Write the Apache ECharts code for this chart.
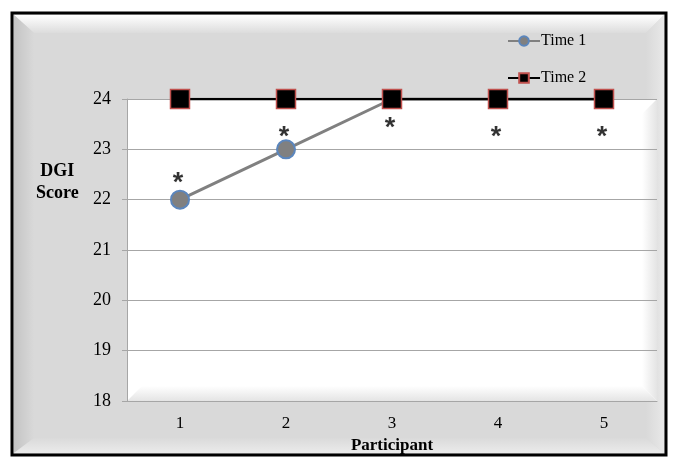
<!DOCTYPE html>
<html>
<head>
<meta charset="utf-8">
<script src="https://cdn.jsdelivr.net/npm/echarts@6/dist/echarts.min.js"></script>
<style>
html,body{margin:0;padding:0;background:#fff;}
#chart{width:679px;height:466px;}
</style>
</head>
<body>
<div id="chart"></div>
<script>
const categories = ['1', '2', '3', '4', '5'];
const time1 = [22, 23, 24, 24, 24];
const time2 = [24, 24, 24, 24, 24];
const asteriskValues = [22.41, 23.34, 23.52, 23.34, 23.34];
const yMin = 18, yMax = 24, yInterval = 1;

const serif = '"Liberation Serif", "Times New Roman", serif';
const chart = echarts.init(document.getElementById('chart'));

const G = { left: 127, top: 99, width: 530, height: 302 };
const gx2 = G.left + G.width, gy2 = G.top + G.height;

function lg(x, y, x2, y2, c1, c2) {
  return { type: 'linear', x: x, y: y, x2: x2, y2: y2, colorStops: [{ offset: 0, color: c1 }, { offset: 1, color: c2 }] };
}

const graphics = [
  { type: 'rect', z: -20, shape: { x: 12, y: 13, width: 654, height: 442 }, style: { fill: '#d9d9d9' } },
  { type: 'polygon', z: -19, shape: { points: [[14, 15], [664, 15], [646, 33], [34, 33]] }, style: { fill: lg(0, 0, 0, 1, '#ffffff', '#dcdcdc') } },
  { type: 'polygon', z: -19, shape: { points: [[14, 15], [34, 33], [34, 438], [14, 453]] }, style: { fill: lg(0, 0, 1, 0, '#c4c4c4', '#d9d9d9') } },
  { type: 'polygon', z: -19, shape: { points: [[664, 15], [664, 453], [646, 438], [646, 33]] }, style: { fill: lg(0, 0, 1, 0, '#d9d9d9', '#e8e8e8') } },
  { type: 'polygon', z: -19, shape: { points: [[14, 453], [664, 453], [646, 438], [34, 438]] }, style: { fill: lg(0, 0, 0, 1, '#dadada', '#ebebeb') } },
  { type: 'rect', z: -15, shape: { x: G.left, y: G.top, width: G.width, height: G.height }, style: { fill: '#ffffff' } },
  { type: 'polygon', z: -14, shape: { points: [[G.left, gy2], [gx2, gy2], [gx2 - 15, gy2 - 15], [G.left + 15, gy2 - 15]] }, style: { fill: lg(0, 0, 0, 1, '#ffffff', '#e4e4e4') } },
  { type: 'polygon', z: -14, shape: { points: [[gx2, G.top], [gx2, gy2], [gx2 - 15, gy2 - 15], [gx2 - 15, G.top + 15]] }, style: { fill: lg(0, 0, 1, 0, '#ffffff', '#e4e4e4') } },
  { type: 'rect', z: 100, shape: { x: 12, y: 13, width: 654, height: 442 }, style: { fill: 'none', stroke: '#000', lineWidth: 3 } },
  { type: 'text', z: 50, left: 36, top: 160, style: { text: 'DGI\nScore', font: 'bold 18px ' + serif, fill: '#000', textAlign: 'center', lineHeight: 22 } }
];

chart.setOption({
  animation: false,
  backgroundColor: '#ffffff',
  graphic: graphics,
  grid: { left: G.left, top: G.top, width: G.width, height: G.height, containLabel: false },
  legend: {
    orient: 'vertical', left: 502, top: 28,
    itemWidth: 32, itemHeight: 12, itemGap: 21,
    textStyle: { fontFamily: serif, fontSize: 16, color: '#000', padding: [0, 0, 0, -4] },
    data: ['Time 1', 'Time 2']
  },
  xAxis: {
    type: 'category', data: categories, boundaryGap: true,
    name: 'Participant', nameLocation: 'middle', nameGap: 34,
    nameTextStyle: { fontFamily: serif, fontSize: 17, fontWeight: 'bold', color: '#000' },
    axisLine: { lineStyle: { color: '#a6a6a6', width: 1 } },
    axisTick: { show: false },
    axisLabel: { fontFamily: serif, fontSize: 17, color: '#000', margin: 14 }
  },
  yAxis: {
    type: 'value', min: yMin, max: yMax, interval: yInterval,
    axisLine: { show: true, lineStyle: { color: '#a6a6a6', width: 1 } },
    axisTick: { show: true, length: 5, lineStyle: { color: '#a6a6a6' } },
    axisLabel: { fontFamily: serif, fontSize: 18, color: '#000', margin: 16 },
    splitLine: { show: true, lineStyle: { color: '#a6a6a6', width: 1 } }
  },
  series: [
    {
      name: 'Time 1', type: 'line', data: time1, z: 3,
      symbol: 'circle', symbolSize: 18,
      lineStyle: { color: '#808080', width: 3 },
      itemStyle: { color: '#808080', borderColor: '#5b86bd', borderWidth: 2 }
    },
    {
      name: 'Time 2', type: 'line', data: time2, z: 4,
      symbol: 'rect', symbolSize: 19,
      lineStyle: { color: '#000000', width: 2.5 },
      itemStyle: { color: '#000000', borderColor: '#c0504d', borderWidth: 1.5 }
    },
    {
      name: 'sig', type: 'scatter', data: asteriskValues, z: 5,
      symbolSize: 0, silent: true,
      label: {
        show: true, formatter: '*', position: 'inside', offset: [-2, 5],
        fontFamily: '"Liberation Sans", Arial, sans-serif', fontSize: 27, fontWeight: 'bold', color: '#000'
      }
    }
  ]
});
</script>
</body>
</html>
